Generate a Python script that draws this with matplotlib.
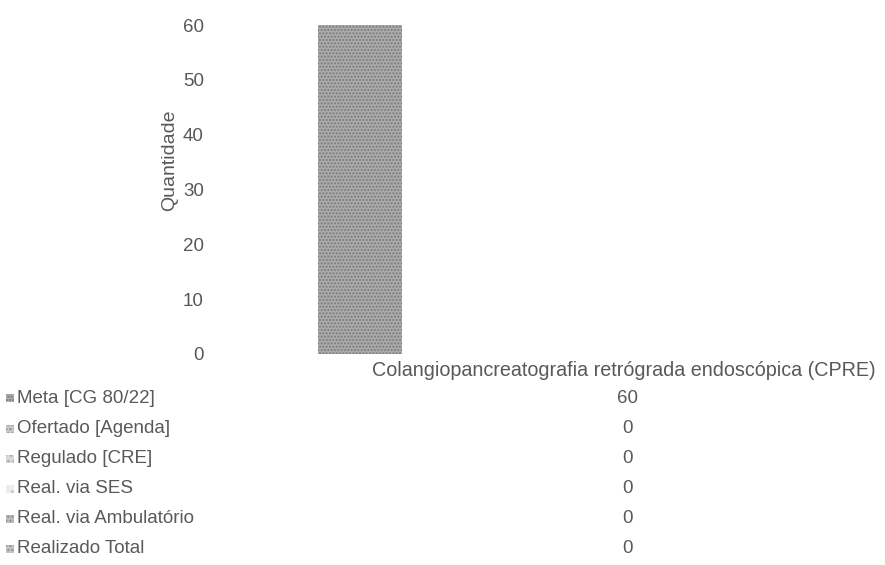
import numpy as np
import matplotlib.pyplot as plt
from matplotlib.patches import Rectangle

#%% Dados
categoria = 'Colangiopancreatografia retrógrada endoscópica (CPRE)'
series = ['Meta [CG 80/22]', 'Ofertado [Agenda]', 'Regulado [CRE]',
          'Real. via SES', 'Real. via Ambulatório', 'Realizado Total']
valores = [60, 0, 0, 0, 0, 0]
yticks = [0, 10, 20, 30, 40, 50, 60]

#%% Estilo (tons de cinza, aspecto de impressão)
cores = ['#ababab', '#c8c8c8', '#d8d8d8', '#ececec', '#bdbdbd', '#c4c4c4']
hachuras = ['.....', '....', '...', '..', '....', '....']
cor_hach = ['#7a7a7a', '#909090', '#a8a8a8', '#c8c8c8', '#8a8a8a', '#8c8c8c']
cor_txt = '#595959'
plt.rcParams['font.family'] = ['Liberation Sans', 'DejaVu Sans']

#%% Plot
fig = plt.figure(figsize=(8.85, 5.65), dpi=100)
ax = fig.add_axes([215/885, 1 - 354/565, 670/885, (354 - 25)/565])

x = np.arange(len(series))
larg = 0.794
for i, v in enumerate(valores):
    ax.bar(x[i], v, width=larg, color=cores[i], hatch=hachuras[i],
           edgecolor=cor_hach[i], linewidth=0)

ax.set_xlim(-1.355, 4.907)
ax.set_ylim(0, 60)
ax.set_yticks(yticks)
ax.set_yticklabels([str(t) for t in yticks], fontsize=13.5, color=cor_txt)
ax.tick_params(axis='y', length=0, pad=8)
ax.set_xticks([])
for s in ax.spines.values():
    s.set_visible(False)
ax.set_ylabel('Quantidade', fontsize=14, color=cor_txt)
ax.yaxis.set_label_coords(-0.055, 0.59)

#%% Tabela de dados abaixo
centro = x.mean()
trans = ax.get_xaxis_transform()
ax.text(centro - 0.03, -0.05, categoria, transform=trans, ha='center',
        va='center', fontsize=14.2, color=cor_txt, clip_on=False)

lin0 = -0.135
passo = -0.0915
for i, (nome, v) in enumerate(zip(series, valores)):
    yy = lin0 + i*passo
    ax.text(centro, yy, str(v), transform=trans, ha='center', va='center',
            fontsize=13.5, color=cor_txt, clip_on=False)
    # marcador da legenda
    yf = fig.transFigure.inverted().transform(trans.transform((0, yy)))[1]
    fig.patches.append(Rectangle((6/885, yf - 4/565), 8/885, 8/565,
                                 transform=fig.transFigure, facecolor=cores[i],
                                 hatch=hachuras[i], edgecolor=cor_hach[i],
                                 linewidth=0))
    fig.text(17/885, yf, nome, ha='left', va='center', fontsize=13.5,
             color=cor_txt)

plt.savefig('out.png', dpi=100)
